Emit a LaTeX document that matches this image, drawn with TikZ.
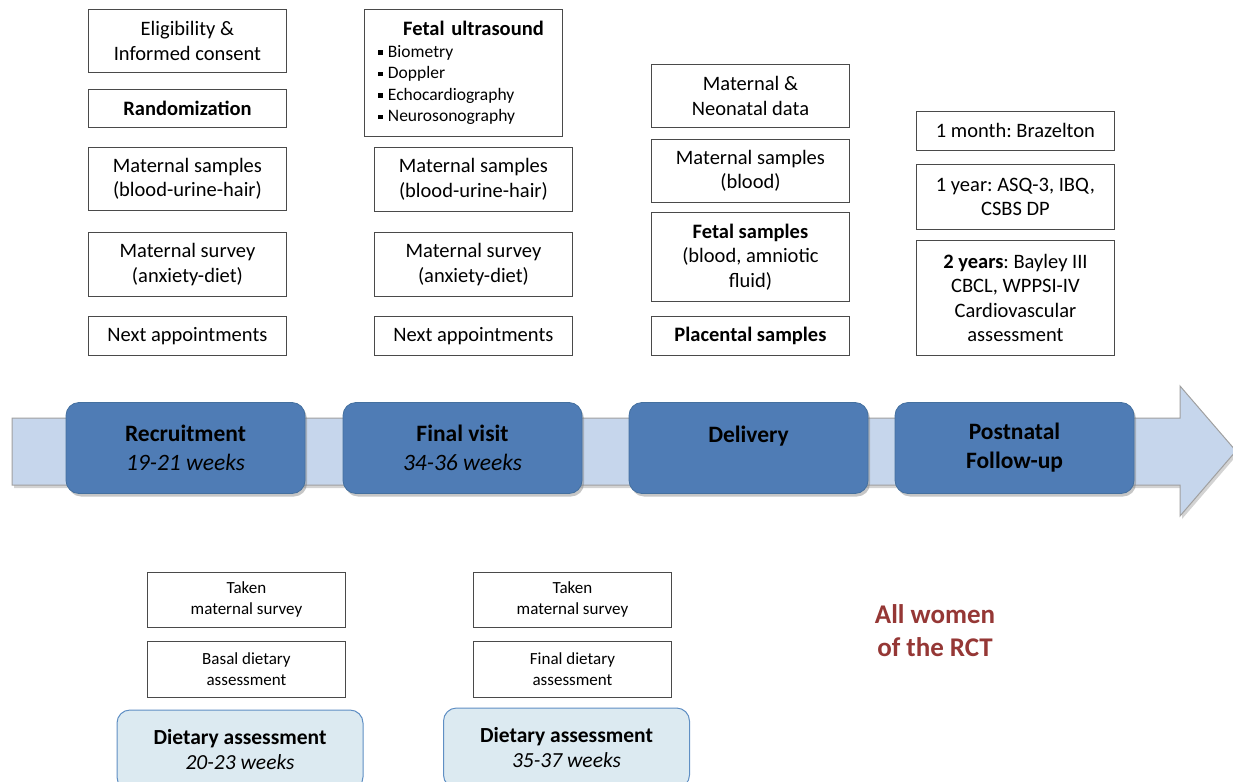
\documentclass[tikz,border=0pt]{standalone}
\usepackage{fontspec}
\setmainfont{Carlito}
\usetikzlibrary{shadows}
\definecolor{bandfill}{HTML}{C6D6EC}
\definecolor{bandedge}{HTML}{A0A0A0}
\definecolor{stepfill}{HTML}{4F7CB5}
\definecolor{stepedge}{HTML}{44709F}
\definecolor{dietfill}{HTML}{DCEAF1}
\definecolor{dietedge}{HTML}{5F8FC4}
\definecolor{boxedge}{HTML}{4A4A4A}
\definecolor{redtxt}{HTML}{953735}
\newcommand{\sqb}{\hspace*{9pt}\raisebox{0.3ex}{\rule{4.5pt}{4.5pt}}\hspace{5pt}}
\frenchspacing
\begin{document}
\begin{tikzpicture}[x=1pt,y=-1pt,
  tbox/.style={draw=boxedge, line width=0.9pt, fill=white, align=center, anchor=north west,
    inner sep=2pt, minimum width=198, font=\fontsize{20.5}{24.5}\selectfont},
  sbox/.style={tbox, font=\fontsize{17}{21}\selectfont},
  stepbox/.style={draw=stepedge, line width=0.8pt, fill=stepfill, rounded corners=13,
    minimum width=239, minimum height=91, align=center,
    font=\fontsize{23.5}{29}\selectfont,
    drop shadow={shadow xshift=2pt, shadow yshift=-3pt, opacity=0.45}},
  dietbox/.style={draw=dietedge, line width=1pt, fill=dietfill, rounded corners=13,
    minimum width=246, minimum height=80, align=center,
    font=\fontsize{21.5}{25}\selectfont},
  band/.style={fill=bandfill, draw=bandedge, line width=1pt,
    drop shadow={shadow xshift=2pt, shadow yshift=-3pt, opacity=0.35}}]
\useasboundingbox (0,0) rectangle (1233,781);

% ---- timeline band ----
\path[band] (12,418) -- (1180,418) -- (1180,386) -- (1236,451) -- (1180,516) -- (1180,485) -- (12,485) -- cycle;

\node[stepbox] (recr) at (185.5,448) {\textbf{Recruitment}\\\textit{19-21 weeks}};
\node[stepbox] (final) at (462.5,448) {\textbf{Final visit}\\\textit{34-36 weeks}};
\node[stepbox] (deliv) at (748.5,448) {\textbf{Delivery}\\[-2pt]\phantom{x}};
\node[stepbox] (post) at (1014.5,448) {\textbf{Postnatal}\\\textbf{Follow-up}};

% ---- column 1 ----
\node[tbox, minimum height=63] (elig) at (88,9) {Eligibility \&\\Informed consent};
\node[tbox, minimum height=38] (rand) at (88,89) {\textbf{Randomization}};
\node[tbox, minimum height=63] (ms1) at (88,147) {Maternal samples\\(blood-urine-hair)};
\node[tbox, minimum height=64] (msv1) at (88,232) {Maternal survey\\(anxiety-diet)};
\node[tbox, minimum height=39] (next1) at (88,316) {Next appointments};

% ---- column 2 ----
\node[tbox, minimum height=127, text width=188, inner sep=5pt, anchor=north west] (fus) at (364,9)
  {\centering\hspace*{20pt}\textbf{Fetal ultrasound}\par
   \raggedright\fontsize{17.5}{21.5}\selectfont
   \sqb Biometry\par\sqb Doppler\par\sqb Echocardiography\par\sqb Neurosonography\par};
\node[tbox, minimum height=64] (ms2) at (374,147) {Maternal samples\\(blood-urine-hair)};
\node[tbox, minimum height=64] (msv2) at (374,232) {Maternal survey\\(anxiety-diet)};
\node[tbox, minimum height=39] (next2) at (374,316) {Next appointments};

% ---- column 3 ----
\node[tbox, minimum height=63] (mnd) at (651,64) {Maternal \&\\Neonatal data};
\node[tbox, minimum height=63] (ms3) at (651,139) {Maternal samples\\(blood)};
\node[tbox, minimum height=89] (fs) at (651,212) {\textbf{Fetal samples}\\(blood, amniotic\\fluid)};
\node[tbox, minimum height=39] (pl) at (651,316) {\textbf{Placental samples}};

% ---- column 4 ----
\node[tbox, minimum height=39] (m1) at (916,111) {1 month: Brazelton};
\node[tbox, minimum height=65] (y1) at (916,164) {1 year: ASQ-3, IBQ,\\CSBS DP};
\node[tbox, minimum height=115] (y2) at (916,240) {\textbf{2 years}: Bayley III\\CBCL, WPPSI-IV\\Cardiovascular\\assessment};

% ---- bottom ----
\node[sbox, minimum height=55] (tk1) at (147,572) {Taken\\maternal survey};
\node[sbox, minimum height=56] (bd) at (147,641) {Basal dietary\\assessment};
\node[dietbox] (da1) at (240,750) {\textbf{Dietary assessment}\\\textit{20-23 weeks}};

\node[sbox, minimum height=55] (tk2) at (473,572) {Taken\\maternal survey};
\node[sbox, minimum height=56] (fd) at (473,641) {Final dietary\\assessment};
\node[dietbox] (da2) at (566.5,748) {\textbf{Dietary assessment}\\\textit{35-37 weeks}};

\node[text=redtxt, align=center, font=\fontsize{27}{33}\selectfont\bfseries] (rct) at (935,631) {All women\\of the RCT};
\end{tikzpicture}
\end{document}
